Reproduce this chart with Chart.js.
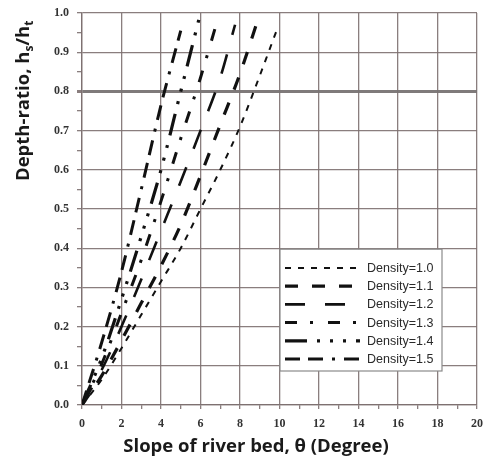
<!DOCTYPE html>
<html>
<head>
<meta charset="utf-8">
<script src="https://cdn.jsdelivr.net/npm/chart.js@4"></script>
<style>
  html, body { margin: 0; padding: 0; background: #ffffff; }
  #wrap { width: 484px; height: 459px; }
</style>
</head>
<body>
<div id="wrap"><canvas id="c" width="484" height="459"></canvas></div>
<script>
// ---- data ----
const seriesLabels = ['Density=1.0', 'Density=1.1', 'Density=1.2', 'Density=1.3', 'Density=1.4', 'Density=1.5'];

const x10 = [0, 1, 2, 3, 4, 5, 6, 7, 8, 9, 9.85];
const y10 = [0, 0.065, 0.145, 0.23, 0.315, 0.40, 0.50, 0.60, 0.71, 0.84, 0.955];

const x11 = [0, 1, 2, 3, 4, 5, 6, 7, 8, 8.95];
const y11 = [0, 0.075, 0.165, 0.26, 0.355, 0.46, 0.585, 0.715, 0.845, 0.99];

const x12 = [0, 1, 2, 3, 4, 5, 6, 7, 7.75];
const y12 = [0, 0.09, 0.20, 0.32, 0.445, 0.57, 0.70, 0.835, 0.97];

const x13 = [0, 1, 2, 3, 4, 5, 6, 6.85];
const y13 = [0, 0.105, 0.235, 0.37, 0.52, 0.68, 0.835, 0.98];

const x14 = [0, 1, 2, 3, 4, 5, 6];
const y14 = [0, 0.12, 0.27, 0.43, 0.60, 0.80, 1.0];

const x15 = [0, 1, 2, 3, 4, 5];
const y15 = [0, 0.16, 0.34, 0.55, 0.765, 0.955];

const xTickLabels = ['0', '2', '4', '6', '8', '10', '12', '14', '16', '18', '20'];
const yTickLabels = ['0.0', '0.1', '0.2', '0.3', '0.4', '0.5', '0.6', '0.7', '0.8', '0.9', '1.0'];
const referenceLevel = 0.8;

// ---- styles ----
const lineStyles = [
  { dash: [6, 7], width: 2 },
  { dash: [13, 14], width: 3.2 },
  { dash: [20, 20], width: 2.6 },
  { dash: [12, 13, 3, 15], width: 3 },
  { dash: [22, 10, 3, 10, 3, 10, 3, 10], width: 3.2 },
  { dash: [15, 8, 15, 9, 3, 9], width: 3 }
];
const xsAll = [x10, x11, x12, x13, x14, x15];
const ysAll = [y10, y11, y12, y13, y14, y15];

const datasets = seriesLabels.map((lab, i) => ({
  label: lab,
  data: xsAll[i].map((x, j) => ({ x: x, y: ysAll[i][j] })),
  borderColor: '#111111',
  borderWidth: lineStyles[i].width,
  borderDash: lineStyles[i].dash,
  borderCapStyle: 'butt',
  pointRadius: 0,
  fill: false,
  cubicInterpolationMode: 'monotone'
}));

const GRID = 'rgba(125,112,112,0.9)';
const TICKFONT = { family: '"Liberation Serif", serif', size: 12, weight: 'bold' };

function isMajorY(v) { return Math.abs(v * 10 - Math.round(v * 10)) < 1e-6; }

const titlesPlugin = {
  id: 'titles',
  afterDraw(chart) {
    const ctx = chart.ctx;
    ctx.save();
    ctx.fillStyle = '#1a1a1a';
    // x title
    ctx.font = 'bold 18.5px "Open Sans", Lato, sans-serif';
    ctx.textAlign = 'center';
    ctx.textBaseline = 'alphabetic';
    ctx.fillText('Slope of river bed, \u03B8 (Degree)', 256, 452);
    // y title with subscripts, rotated
    ctx.translate(29, 181);
    ctx.rotate(-Math.PI / 2);
    ctx.textAlign = 'left';
    const big = 'bold 18.5px "Open Sans", Lato, sans-serif';
    const small = 'bold 12px "Open Sans", Lato, sans-serif';
    const parts = [['Depth-ratio, h', big, 0], ['s', small, 4], ['/h', big, 0], ['t', small, 4]];
    let x = 0;
    parts.forEach(p => {
      ctx.font = p[1];
      ctx.fillText(p[0], x, p[2]);
      x += ctx.measureText(p[0]).width;
    });
    ctx.restore();
  }
};

const legendPlugin = {
  id: 'boxLegend',
  afterDatasetsDraw(chart) {
    const ctx = chart.ctx;
    const xs = chart.scales.x, ys = chart.scales.y;
    const left = xs.getPixelForValue(10) + 0.5;
    const top = ys.getPixelForValue(0.4) + 1;
    const right = 442, bottom = 371;
    ctx.save();
    ctx.fillStyle = '#ffffff';
    ctx.fillRect(left, top, right - left, bottom - top);
    ctx.strokeStyle = '#8a8a8a';
    ctx.lineWidth = 1.2;
    ctx.strokeRect(left, top, right - left, bottom - top);
    chart.data.datasets.forEach((ds, i) => {
      const y = 268 + i * 18.2;
      ctx.beginPath();
      ctx.setLineDash(ds.borderDash);
      ctx.lineWidth = ds.borderWidth;
      ctx.lineCap = 'butt';
      ctx.strokeStyle = ds.borderColor;
      ctx.moveTo(285, y);
      ctx.lineTo(360, y);
      ctx.stroke();
      ctx.setLineDash([]);
      ctx.fillStyle = '#2a2a2a';
      ctx.font = '12.5px "Liberation Sans", Arial, sans-serif';
      ctx.textAlign = 'left';
      ctx.textBaseline = 'middle';
      ctx.fillText(ds.label, 367, y + 0.5);
    });
    ctx.restore();
  }
};

new Chart(document.getElementById('c'), {
  type: 'line',
  data: { datasets: datasets },
  options: {
    responsive: false,
    animation: false,
    layout: { padding: { top: 13, right: 0, left: 0, bottom: 0 } },
    plugins: { legend: { display: false }, tooltip: { enabled: false } },
    scales: {
      x: {
        type: 'linear',
        min: 0, max: 20,
        afterFit(s) { s.height = 54; s.paddingRight = 7; s.paddingLeft = 0; },
        ticks: {
          stepSize: 1,
          autoSkip: false,
          maxRotation: 0,
          padding: 8,
          color: '#333',
          font: TICKFONT,
          callback(v) { return (Math.round(v) % 2 === 0) ? xTickLabels[Math.round(v) / 2] : ''; }
        },
        grid: {
          color(c) { return (Math.round(c.tick.value) % 2 === 0) ? GRID : 'rgba(0,0,0,0)'; },
          tickColor: GRID,
          lineWidth: 1.3,
          tickLength: 4,
          drawTicks: true
        },
        border: { color: GRID, width: 1.3 }
      },
      y: {
        type: 'linear',
        min: 0, max: 1,
        afterFit(s) { s.width = 82; s.paddingTop = 0; s.paddingBottom = 0; },
        ticks: {
          stepSize: 0.05,
          autoSkip: false,
          padding: 8,
          color: '#333',
          font: TICKFONT,
          callback(v) { return isMajorY(v) ? yTickLabels[Math.round(v * 10)] : ''; }
        },
        grid: {
          color(c) {
            const v = c.tick.value;
            if (Math.abs(v - referenceLevel) < 1e-6) return 'rgba(120,115,115,0.95)';
            return isMajorY(v) ? GRID : 'rgba(0,0,0,0)';
          },
          lineWidth(c) { return Math.abs(c.tick.value - referenceLevel) < 1e-6 ? 3 : 1.3; },
          tickColor: GRID,
          tickLength: 5,
          drawTicks: true
        },
        border: { color: GRID, width: 1.3 }
      }
    }
  },
  plugins: [legendPlugin, titlesPlugin]
});
</script>
</body>
</html>
